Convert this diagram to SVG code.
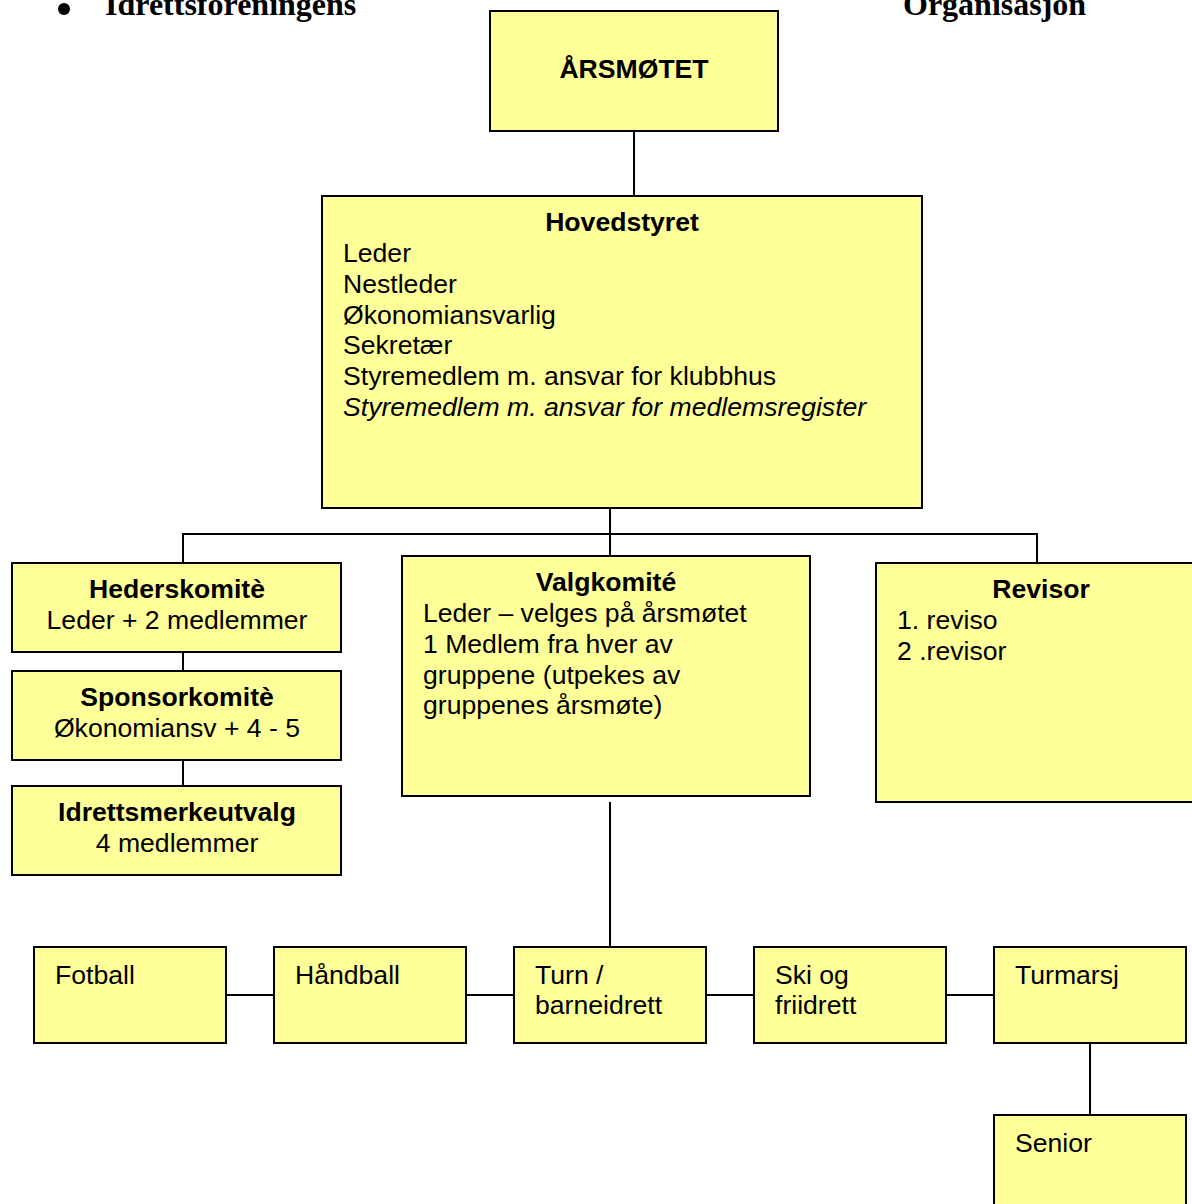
<svg xmlns="http://www.w3.org/2000/svg" width="1192" height="1204" viewBox="0 0 1192 1204">
<style>
.box{fill:#FFFF99;stroke:#000;stroke-width:2}
.t{font-family:"Liberation Sans",Arial,sans-serif;font-size:26.6px;fill:#000}
.b{font-weight:bold}
.c{text-anchor:middle}
.i{font-style:italic}
.h{font-family:"Liberation Serif","Times New Roman",serif;font-size:32px;font-weight:bold;fill:#000}
.ln{stroke:#000;stroke-width:2;fill:none}
</style>
<g id="header">
<circle cx="64" cy="9" r="6" fill="#000"/>
<text class="h" x="105" y="15">Idrettsforeningens</text>
<text class="h" x="903" y="15">Organisasjon</text>
</g>
<g id="connectors">
<line class="ln" x1="634" y1="131" x2="634" y2="196"/>
<line class="ln" x1="610" y1="508" x2="610" y2="556"/>
<line class="ln" x1="183" y1="534" x2="1037" y2="534"/>
<line class="ln" x1="183" y1="533" x2="183" y2="563"/>
<line class="ln" x1="1037" y1="533" x2="1037" y2="563"/>
<line class="ln" x1="183" y1="652" x2="183" y2="671"/>
<line class="ln" x1="183" y1="760" x2="183" y2="786"/>
<line class="ln" x1="610" y1="802" x2="610" y2="947"/>
<line class="ln" x1="226" y1="995" x2="274" y2="995"/>
<line class="ln" x1="466" y1="995" x2="514" y2="995"/>
<line class="ln" x1="706" y1="995" x2="754" y2="995"/>
<line class="ln" x1="946" y1="995" x2="994" y2="995"/>
<line class="ln" x1="1090" y1="1043" x2="1090" y2="1115"/>
</g>
<g id="arsmotet">
<rect class="box" x="490" y="11" width="288" height="120"/>
<text class="t b c" x="634" y="78">ÅRSMØTET</text>
</g>
<g id="hovedstyret">
<rect class="box" x="322" y="196" width="600" height="312"/>
<text class="t b c" x="622" y="231">Hovedstyret</text>
<text class="t" x="343" y="262">Leder</text>
<text class="t" x="343" y="293">Nestleder</text>
<text class="t" x="343" y="324">Økonomiansvarlig</text>
<text class="t" x="343" y="354">Sekretær</text>
<text class="t" x="343" y="385">Styremedlem m. ansvar for klubbhus</text>
<text class="t i" x="343" y="416">Styremedlem m. ansvar for medlemsregister</text>
</g>
<g id="hederskomite">
<rect class="box" x="12" y="563" width="329" height="89"/>
<text class="t b c" x="177" y="598">Hederskomitè</text>
<text class="t c" x="177" y="629">Leder + 2 medlemmer</text>
</g>
<g id="sponsorkomite">
<rect class="box" x="12" y="671" width="329" height="89"/>
<text class="t b c" x="177" y="706">Sponsorkomitè</text>
<text class="t c" x="177" y="737">Økonomiansv + 4 - 5</text>
</g>
<g id="idrettsmerkeutvalg">
<rect class="box" x="12" y="786" width="329" height="89"/>
<text class="t b c" x="177" y="821">Idrettsmerkeutvalg</text>
<text class="t c" x="177" y="852">4 medlemmer</text>
</g>
<g id="valgkomite">
<rect class="box" x="402" y="556" width="408" height="240"/>
<text class="t b c" x="606" y="591">Valgkomité</text>
<text class="t" x="423" y="622">Leder – velges på årsmøtet</text>
<text class="t" x="423" y="653">1 Medlem fra hver av</text>
<text class="t" x="423" y="684">gruppene (utpekes av</text>
<text class="t" x="423" y="714">gruppenes årsmøte)</text>
</g>
<g id="revisor">
<rect class="box" x="876" y="563" width="330" height="239"/>
<text class="t b c" x="1041" y="598">Revisor</text>
<text class="t" x="897" y="629">1. reviso</text>
<text class="t" x="897" y="660">2 .revisor</text>
</g>
<g id="fotball">
<rect class="box" x="34" y="947" width="192" height="96"/>
<text class="t" x="55" y="984">Fotball</text>
</g>
<g id="handball">
<rect class="box" x="274" y="947" width="192" height="96"/>
<text class="t" x="295" y="984">Håndball</text>
</g>
<g id="turn">
<rect class="box" x="514" y="947" width="192" height="96"/>
<text class="t" x="535" y="984">Turn /</text>
<text class="t" x="535" y="1014">barneidrett</text>
</g>
<g id="ski">
<rect class="box" x="754" y="947" width="192" height="96"/>
<text class="t" x="775" y="984">Ski og</text>
<text class="t" x="775" y="1014">friidrett</text>
</g>
<g id="turmarsj">
<rect class="box" x="994" y="947" width="192" height="96"/>
<text class="t" x="1015" y="984">Turmarsj</text>
</g>
<g id="senior">
<rect class="box" x="994" y="1115" width="192" height="100"/>
<text class="t" x="1015" y="1152">Senior</text>
</g>
</svg>
